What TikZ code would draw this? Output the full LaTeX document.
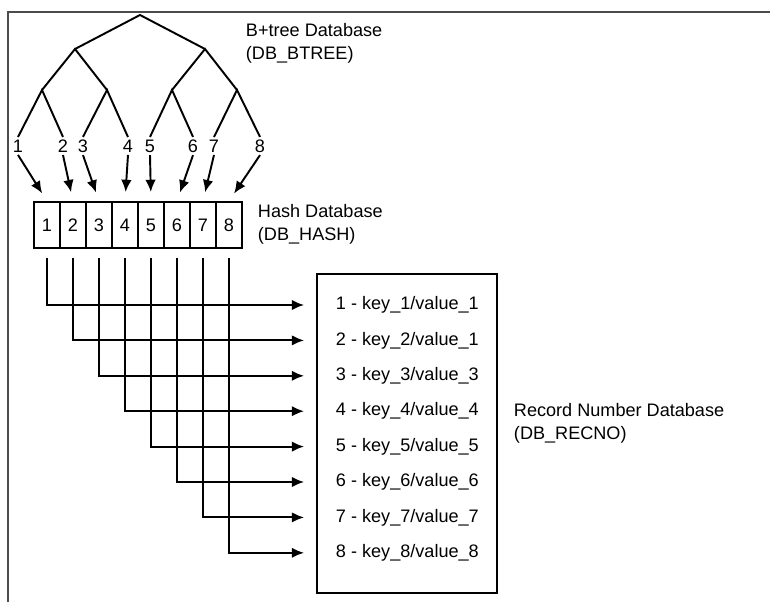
\documentclass[tikz,border=0pt]{standalone}
\usepackage{fontspec}
\setmainfont{Liberation Sans}
\usetikzlibrary{positioning, arrows.meta}

\tikzset{
  cell/.style={draw, minimum width=0.52cm, minimum height=0.92cm, inner sep=0pt},
  dblabel/.style={align=left, anchor=west, inner sep=0pt},
  link/.style={-{Latex[length=7pt,width=6pt]}},
}

\begin{document}
\begin{tikzpicture}[x=0.02cm, y=-0.02cm, line width=1.1pt, font=\fontsize{10.3}{13}\selectfont]
    \useasboundingbox (0,0) rectangle (770,602);

    % frame
    \draw[line width=1pt, black!70] (8,602) -- (8,12) -- (770,12);

    % B+tree
    \coordinate (root) at (140,15);
    \coordinate (n1) at (75,49);
    \coordinate (n2) at (205,49);
    \foreach \i/\x in {1/42, 2/107, 3/172, 4/237}
        \coordinate (m\i) at (\x,90);
    \foreach \i/\x in {1/18, 2/63, 3/83, 4/128, 5/150, 6/193, 7/214, 8/260}
        \node[inner sep=1pt] (t\i) at (\x,146) {\i};
    \draw (n1) -- (root) -- (n2);
    \draw (m1) -- (n1) -- (m2);
    \draw (m3) -- (n2) -- (m4);
    \draw (t1.north) -- (m1) -- (t2.north);
    \draw (t3.north) -- (m2) -- (t4.north);
    \draw (t5.north) -- (m3) -- (t6.north);
    \draw (t7.north) -- (m4) -- (t8.north);
    \node[dblabel] (btree) at (245,43) {B+tree Database\\(DB\_BTREE)};

    % Hash
    \foreach \i in {1,...,8} {
        \node[cell] (h\i) at ({21+26*\i},225) {\i};
        \draw[link, shorten >=0.18cm] (t\i.south) -- (h\i.north);
    }
    \node[dblabel] (hash) at (257,224) {Hash Database\\(DB\_HASH)};

    % Recno
    \node[draw, minimum width=3.6cm, minimum height=6.38cm] (rec) at (407,433.5) {};
    \foreach \i/\v in {1/1, 2/1, 3/3, 4/4, 5/5, 6/6, 7/7, 8/8} {
        \node[anchor=west, inner sep=0pt] (k\i) at (335,{305+35.4*(\i-1)}) {\i{} - key\_\i/value\_\v};
        \draw[link, shorten <=0.18cm, shorten >=0.24cm] (h\i.south) |- (k\i -| rec.west);
    }
    \node[dblabel] (recno) at (513,423) {Record Number Database\\(DB\_RECNO)};
\end{tikzpicture}
\end{document}
